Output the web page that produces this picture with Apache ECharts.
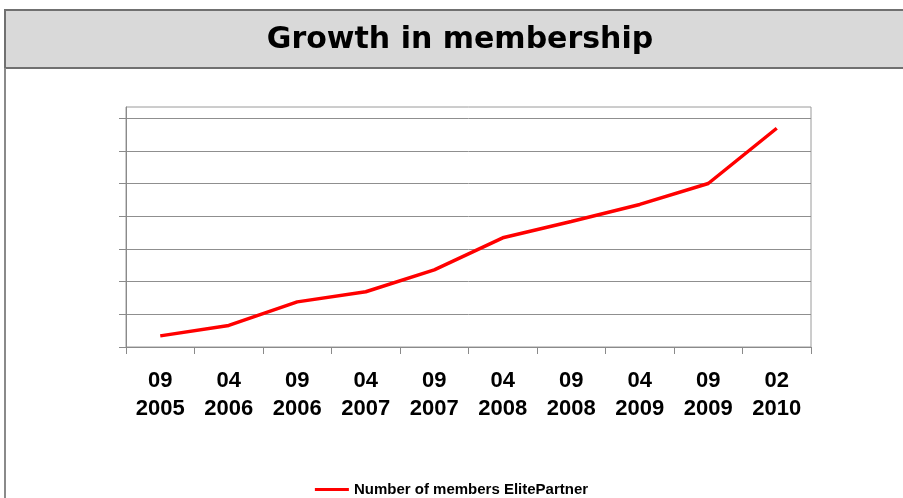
<!DOCTYPE html>
<html>
<head>
<meta charset="utf-8">
<script src="https://cdn.jsdelivr.net/npm/echarts@6/dist/echarts.min.js"></script>
<style>
html,body{margin:0;padding:0;background:#fff;}
#chart{width:903px;height:498px;}
</style>
</head>
<body>
<div id="chart"></div>
<script>
const titleText = 'Growth in membership';
const seriesName = 'Number of members ElitePartner';
const categories = ['09\n2005','04\n2006','09\n2006','04\n2007','09\n2007','04\n2008','09\n2008','04\n2009','09\n2009','02\n2010'];
const members = [0.34, 0.66, 1.38, 1.69, 2.36, 3.34, 3.84, 4.36, 5.0, 6.69];
const yTicks = [0,1,2,3,4,5,6,7];

const chart = echarts.init(document.getElementById('chart'), null, {renderer:'canvas'});
chart.setOption({
  animation:false,
  backgroundColor:'#ffffff',
  graphic:[
    {type:'rect', z:-10, shape:{x:5, y:10, width:910, height:58}, style:{fill:'#d9d9d9', stroke:'#707070', lineWidth:2}},
    {type:'line', z:-10, shape:{x1:5, y1:68, x2:5, y2:500}, style:{stroke:'#8a8a8a', lineWidth:2}},
    {type:'text', x:460, y:40, style:{text:titleText, textAlign:'center', textVerticalAlign:'middle', font:'bold 30px "DejaVu Sans"', fill:'#000'}}
  ],
  legend:{
    data:[seriesName],
    left:'center', top:477,
    icon:'rect', itemWidth:34, itemHeight:3,
    textStyle:{fontFamily:'Liberation Sans', fontWeight:'bold', fontSize:15, color:'#000'}
  },
  grid:{left:126, right:92, top:107, bottom:151, show:true, borderColor:'#9a9a9a', borderWidth:1},
  xAxis:{
    type:'category', data:categories, boundaryGap:true,
    axisLine:{lineStyle:{color:'#8a8a8a', width:1}},
    axisTick:{show:true, length:7, lineStyle:{color:'#8a8a8a'}},
    axisLabel:{margin:20, fontFamily:'Liberation Sans', fontWeight:'bold', fontSize:22, lineHeight:28, color:'#000', interval:0}
  },
  yAxis:{
    type:'value', min:0, max:7.34, interval:1,
    axisLine:{show:true, lineStyle:{color:'#8a8a8a', width:1}},
    axisTick:{show:true, length:7, customValues:yTicks, lineStyle:{color:'#8a8a8a'}},
    axisLabel:{show:false},
    splitLine:{lineStyle:{color:'#8f8f8f', width:1}}
  },
  series:[{
    name:seriesName, type:'line', data:members, showSymbol:false, symbol:'none',
    lineStyle:{color:'#ff0000', width:3.5}, itemStyle:{color:'#ff0000'}
  }]
});
</script>
</body>
</html>
